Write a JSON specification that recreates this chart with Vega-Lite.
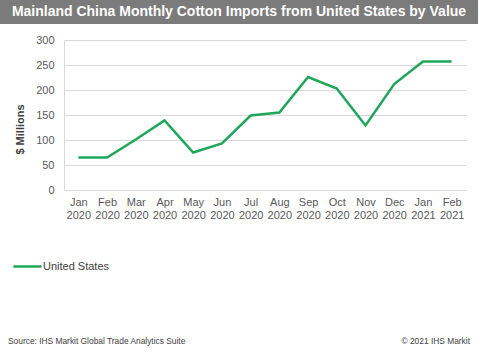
{
  "$schema": "https://vega.github.io/schema/vega-lite/v6.json",
  "background": "white",
  "padding": 0,
  "spacing": 10,
  "config": {
    "font": "Liberation Sans",
    "view": {"stroke": null}
  },
  "vconcat": [
    {
      "width": 478,
      "height": 24,
      "view": {"fill": "#7b7b7b", "stroke": null},
      "data": {"values": [{"t": "Mainland China Monthly Cotton Imports from United States by Value"}]},
      "mark": {"type": "text", "color": "white", "fontWeight": "bold", "fontSize": 14, "align": "center", "baseline": "middle"},
      "encoding": {"text": {"field": "t"}}
    },
    {
      "spacing": 0,
      "hconcat": [
        {
          "width": 14,
          "height": 150,
          "data": {"values": [{"t": ""}]},
          "mark": {"type": "text"},
          "encoding": {"text": {"field": "t"}}
        },
        {
          "width": 402,
          "height": 150,
          "data": {"values": [
            {"month": "Jan 2020", "value": 65, "series": "United States"},
            {"month": "Feb 2020", "value": 65, "series": "United States"},
            {"month": "Mar 2020", "value": 101, "series": "United States"},
            {"month": "Apr 2020", "value": 139, "series": "United States"},
            {"month": "May 2020", "value": 75, "series": "United States"},
            {"month": "Jun 2020", "value": 93, "series": "United States"},
            {"month": "Jul 2020", "value": 149, "series": "United States"},
            {"month": "Aug 2020", "value": 155, "series": "United States"},
            {"month": "Sep 2020", "value": 226, "series": "United States"},
            {"month": "Oct 2020", "value": 203, "series": "United States"},
            {"month": "Nov 2020", "value": 129, "series": "United States"},
            {"month": "Dec 2020", "value": 212, "series": "United States"},
            {"month": "Jan 2021", "value": 257, "series": "United States"},
            {"month": "Feb 2021", "value": 257, "series": "United States"}
          ]},
          "mark": {"type": "line", "strokeWidth": 2.5},
          "encoding": {
            "x": {
              "field": "month", "type": "ordinal", "sort": null,
              "scale": {"type": "point", "padding": 0.5},
              "axis": {
                "title": null, "labelAngle": 0, "ticks": false, "grid": false,
                "domain": false,
                "labelExpr": "split(datum.label, ' ')",
                "labelFontSize": 11, "labelColor": "#595959", "labelPadding": 6,
                "labelLineHeight": 13
              }
            },
            "y": {
              "field": "value", "type": "quantitative",
              "scale": {"domain": [0, 300]},
              "axis": {
                "title": "$ Millions", "titleFontSize": 11, "titleFontWeight": "bold",
                "titleColor": "#404040", "titlePadding": 10, "titleY": 89,
                "values": [0, 50, 100, 150, 200, 250, 300],
                "labelFontSize": 11, "labelColor": "#595959", "labelPadding": 10,
                "ticks": false, "domainColor": "#d9d9d9", "gridColor": "#d9d9d9"
              }
            },
            "color": {
              "field": "series", "type": "nominal",
              "scale": {"range": ["#1fa65a"]},
              "legend": {
                "title": null, "orient": "none", "legendX": 12, "legendY": 251,
                "labelFontSize": 11, "labelColor": "#404040", "labelOffset": 0,
                "symbolType": "stroke", "symbolStrokeWidth": 2.5, "symbolSize": 800
              }
            }
          }
        }
      ]
    },
    {
      "width": 478,
      "height": 125,
      "data": {"values": [
        {"t": "Source: IHS Markit Global Trade Analytics Suite", "pos": "left"},
        {"t": "© 2021 IHS Markit", "pos": "right"}
      ]},
      "layer": [
        {
          "transform": [{"filter": "datum.pos === 'left'"}],
          "mark": {"type": "text", "align": "left", "baseline": "bottom", "fontSize": 8.4, "color": "#404040", "dx": 8, "dy": -9},
          "encoding": {
            "x": {"field": "pos", "type": "nominal", "scale": {"type": "point", "domain": ["left", "right"], "padding": 0}, "axis": null},
            "y": {"value": 125},
            "text": {"field": "t"}
          }
        },
        {
          "transform": [{"filter": "datum.pos === 'right'"}],
          "mark": {"type": "text", "align": "right", "baseline": "bottom", "fontSize": 8.4, "color": "#404040", "dx": -8, "dy": -9},
          "encoding": {
            "x": {"field": "pos", "type": "nominal", "scale": {"type": "point", "domain": ["left", "right"], "padding": 0}, "axis": null},
            "y": {"value": 125},
            "text": {"field": "t"}
          }
        }
      ]
    }
  ]
}
